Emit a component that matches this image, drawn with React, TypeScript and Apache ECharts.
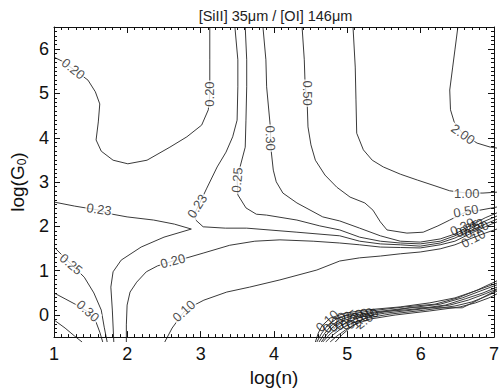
import React, { useEffect, useRef } from "react";
import * as echarts from "echarts";

// ---- data (log(n), log(G0)) ----
const title = "[SiII] 35\u03bcm / [OI] 146\u03bcm";
const xName = "log(n)";
const xTicks = [1, 2, 3, 4, 5, 6, 7];

const c035Left = [[1.0, -0.01], [1.15, -0.19], [1.28, -0.37], [1.38, -0.5]];
const c030Left = [[1.0, 0.59], [1.15, 0.46], [1.31, 0.32], [1.46, 0.17], [1.57, -0.06], [1.62, -0.28], [1.66, -0.5]];
const c025Left = [[1.0, 1.61], [1.11, 1.43], [1.23, 1.23], [1.41, 0.94], [1.54, 0.59], [1.64, 0.21], [1.68, -0.17], [1.72, -0.5]];
const c023Left = [[1.0, 2.61], [1.28, 2.52], [1.61, 2.43], [1.79, 2.34], [1.99, 2.28], [2.35, 2.21], [2.63, 2.12], [2.86, 2.01],
  [2.49, 1.83], [2.18, 1.61], [1.91, 1.32], [1.8, 1.06], [1.77, 0.72], [1.79, 0.21], [1.81, -0.5]];
const c020Loop = [[1.0, 5.83], [1.11, 5.74], [1.28, 5.54], [1.46, 5.32], [1.56, 5.06], [1.62, 4.79], [1.6, 4.39], [1.57, 3.99],
  [1.64, 3.74], [1.8, 3.54], [2.0, 3.46], [2.26, 3.54], [2.57, 3.83], [2.8, 4.06], [3.0, 4.32], [3.09, 4.66], [3.11, 4.99],
  [3.11, 5.77], [3.11, 6.5]];
const c020Main = [[1.98, -0.5], [1.98, -0.12], [1.99, 0.32], [2.03, 0.61], [2.12, 0.83], [2.25, 1.06], [2.4, 1.19], [2.61, 1.3],
  [2.8, 1.37], [3.03, 1.48], [3.38, 1.65], [3.72, 1.74], [4.06, 1.77], [4.51, 1.74], [4.87, 1.7], [5.14, 1.66], [5.42, 1.61],
  [5.69, 1.6], [5.96, 1.59], [6.23, 1.66], [6.43, 1.74], [6.63, 1.9], [6.84, 2.06], [7.0, 2.17]];
const c010Main = [[2.5, -0.5], [2.6, -0.19], [2.76, 0.17], [2.9, 0.32], [3.03, 0.43], [3.34, 0.61], [3.65, 0.72], [4.06, 0.88],
  [4.56, 1.1], [4.87, 1.3], [5.14, 1.37], [5.42, 1.41], [5.69, 1.46], [5.96, 1.5], [6.23, 1.57], [6.43, 1.66], [6.63, 1.79],
  [6.84, 1.92], [7.0, 2.01]];
const c023Upper = [[3.45, 6.5], [3.49, 5.77], [3.49, 5.17], [3.48, 4.43], [3.42, 4.06], [3.33, 3.72], [3.21, 3.39], [3.07, 2.92],
  [2.98, 2.61], [2.9, 2.34], [2.92, 2.21], [3.02, 2.06], [3.32, 2.03], [3.61, 2.03], [4.29, 1.94], [4.87, 1.86], [5.14, 1.74],
  [5.42, 1.68], [5.69, 1.66], [5.96, 1.63], [6.23, 1.7], [6.43, 1.81], [6.63, 1.97], [6.84, 2.12], [7.0, 2.23]];
const c025Upper = [[3.59, 6.5], [3.61, 5.77], [3.61, 5.17], [3.6, 4.43], [3.59, 3.83], [3.52, 3.39], [3.48, 3.1], [3.49, 2.77],
  [3.6, 2.48], [3.74, 2.34], [3.88, 2.32], [4.29, 2.21], [4.6, 2.08], [4.87, 1.99], [5.14, 1.83], [5.42, 1.74], [5.69, 1.7],
  [5.96, 1.68], [6.23, 1.74], [6.43, 1.86], [6.63, 2.01], [6.84, 2.19], [7.0, 2.3]];
const c030Upper = [[3.83, 6.5], [3.87, 5.77], [3.88, 5.17], [3.93, 4.28], [3.94, 3.77], [3.97, 3.32], [4.01, 3.06], [4.1, 2.81],
  [4.29, 2.59], [4.64, 2.28], [4.87, 2.19], [5.14, 2.03], [5.42, 1.86], [5.69, 1.74], [5.96, 1.72], [6.23, 1.79], [6.43, 1.9],
  [6.63, 2.08], [6.84, 2.26], [7.0, 2.37]];
const c050Upper = [[4.36, 6.5], [4.39, 5.77], [4.4, 5.26], [4.43, 4.77], [4.44, 4.28], [4.48, 3.88], [4.54, 3.54], [4.67, 3.21],
  [4.83, 2.94], [5.01, 2.72], [5.21, 2.59], [5.32, 2.43], [5.42, 2.17], [5.51, 1.99], [5.78, 1.92], [6.0, 1.94], [6.2, 2.08],
  [6.36, 2.21], [6.58, 2.39], [6.77, 2.43], [7.0, 2.5]];
const c100Upper = [[5.05, 6.5], [5.08, 5.61], [5.09, 4.88], [5.1, 4.14], [5.19, 3.77], [5.31, 3.54], [5.46, 3.39], [5.69, 3.23],
  [5.92, 3.1], [6.16, 2.97], [6.36, 2.86], [6.59, 2.81], [6.81, 2.81], [7.0, 2.83]];
const c200Upper = [[6.47, 6.5], [6.43, 5.99], [6.4, 5.61], [6.36, 5.1], [6.37, 4.66], [6.42, 4.39], [6.54, 4.12], [6.73, 3.92],
  [6.91, 3.83], [7.0, 3.81]];

// lower-right bundle of contours
const l010 = [[4.54, -0.5], [4.58, -0.3], [4.63, -0.14], [4.74, 0.03], [4.94, 0.14], [5.21, 0.21], [5.69, 0.28], [6.09, 0.37], [6.43, 0.48], [6.7, 0.63], [7.0, 0.81]];
const l020 = [[4.56, -0.5], [4.62, -0.32], [4.7, -0.14], [4.82, 0.01], [5.01, 0.12], [5.28, 0.19], [5.75, 0.28], [6.16, 0.34], [6.47, 0.48], [6.74, 0.66], [7.0, 0.86]];
const l023 = [[4.59, -0.5], [4.66, -0.32], [4.75, -0.14], [4.87, -0.01], [5.08, 0.1], [5.35, 0.17], [5.82, 0.26], [6.23, 0.34], [6.53, 0.48], [6.77, 0.63], [7.0, 0.77]];
const l025 = [[4.62, -0.5], [4.7, -0.32], [4.79, -0.14], [4.91, -0.03], [5.12, 0.08], [5.42, 0.17], [5.89, 0.23], [6.3, 0.32], [6.57, 0.46], [6.81, 0.59], [7.0, 0.72]];
const l030 = [[4.64, -0.5], [4.74, -0.32], [4.85, -0.17], [4.97, -0.06], [5.17, 0.06], [5.48, 0.14], [5.96, 0.23], [6.36, 0.32], [6.61, 0.43], [6.84, 0.57], [7.0, 0.68]];
const l050 = [[4.68, -0.5], [4.78, -0.34], [4.9, -0.19], [5.04, -0.08], [5.23, 0.03], [5.55, 0.12], [6.03, 0.21], [6.43, 0.3], [6.66, 0.39], [6.86, 0.52], [7.0, 0.63]];
const l100 = [[4.74, -0.5], [4.83, -0.37], [4.95, -0.23], [5.09, -0.1], [5.28, 0.01], [5.62, 0.1], [6.09, 0.19], [6.5, 0.28], [6.71, 0.37], [6.89, 0.48], [7.0, 0.57]];
const l200 = [[4.81, -0.5], [4.9, -0.34], [5.02, -0.17], [5.17, -0.01], [5.37, 0.14], [5.82, 0.26], [6.53, 0.26], [6.74, 0.43], [7.0, 0.66]];

const contours = [c035Left, c030Left, c025Left, c023Left, c020Loop, c020Main, c010Main, c023Upper, c025Upper,
  c030Upper, c050Upper, c100Upper, c200Upper, l010, l020, l023, l025, l030, l050, l100, l200];

// contour labels: text, position on the line
const labelTexts = ["0.20", "0.20", "0.23", "0.25", "0.30", "0.20", "0.10", "0.23", "0.25", "0.30", "0.50", "2.00", "1.00", "0.50"];
const labelPoints = [[1.26, 5.57], [3.1, 5.01], [1.61, 2.45], [1.23, 1.23], [1.46, 0.19], [2.61, 1.3], [2.76, 0.19], [2.94, 2.52],
  [3.48, 3.1], [3.93, 4.03], [4.43, 5.03], [6.54, 4.12], [6.59, 2.81], [6.58, 2.41]];
const labelAngles = [-38, 90, -8, -40, -42, 15, 42, 58, 85, -88, -90, -35, 0, 10];

// crowded labels (overlapping clumps)
const clumpTexts = ["0.30", "0.25", "0.23", "0.20", "0.10", "0.10", "0.20", "0.23", "0.25", "0.30", "0.50", "1.00", "2.00"];
const clumpPoints = [[6.53, 2.06], [6.6, 2.02], [6.66, 2.05], [6.72, 2.0], [6.68, 1.8], [4.7, -0.03], [4.8, -0.07], [4.88, -0.05],
  [4.96, -0.01], [5.04, 0.0], [5.11, 0.02], [5.18, 0.03], [5.24, 0.02]];
const clumpAngles = [25, 25, 25, 25, 28, 42, 38, 38, 38, 38, 38, 38, 38];

const FONT = "'Liberation Sans', Arial, Helvetica, sans-serif";
const INK = "#111";
const GRID = { left: 54, right: 5, top: 27, bottom: 50 };

function tick(len: number) { return { show: true, inside: true, length: len, lineStyle: { color: INK, width: 1 } }; }
function line(show: boolean) { return { show, onZero: false, lineStyle: { color: INK, width: 1 } }; }

// chart that holds the contour lines and their labels (axes invisible, same scales)
function seriesOption() {
  const hidden = { axisLine: { show: false }, axisTick: { show: false }, axisLabel: { show: false }, splitLine: { show: false } };
  const series: any[] = contours.map((d) => ({
    type: "line", data: d, showSymbol: false, symbol: "none",
    lineStyle: { color: "#3a3a3a", width: 1 }, silent: true, z: 2,
  }));
  series.push({
    type: "scatter", symbolSize: 1, itemStyle: { color: "rgba(0,0,0,0)" }, silent: true, z: 5,
    data: labelTexts.map((t, i) => ({ name: t, value: labelPoints[i], label: { rotate: labelAngles[i] } })),
    label: { show: true, position: "inside", formatter: "{b}", fontSize: 13, color: "#1a1a1a", fontFamily: FONT,
      backgroundColor: "#fff", padding: [0, 1] },
  });
  series.push({
    type: "scatter", symbolSize: 1, itemStyle: { color: "rgba(0,0,0,0)" }, silent: true, z: 6,
    data: clumpTexts.map((t, i) => ({ name: t, value: clumpPoints[i], label: { rotate: clumpAngles[i] } })),
    label: { show: true, position: "inside", formatter: "{b}", fontSize: 13, color: "#1a1a1a", fontFamily: FONT },
  });
  return {
    animation: false,
    backgroundColor: "#fff",
    grid: GRID,
    xAxis: { type: "value", min: 1, max: 7, ...hidden },
    yAxis: { type: "value", min: -0.5, max: 6.5, ...hidden },
    series,
  };
}

// chart that draws the frame, ticks, tick labels, axis names and title
function axesOption() {
  const xAxis: any[] = [
    { type: "value", min: 1, max: 7, interval: 1, position: "bottom", axisLine: line(true), axisTick: tick(6),
      minorTick: { show: true, splitNumber: 10, length: 3, lineStyle: { color: INK, width: 1 } }, splitLine: { show: false },
      name: xName, nameLocation: "middle", nameGap: 30, nameTextStyle: { fontSize: 19, color: INK, fontFamily: FONT },
      axisLabel: { show: true, fontSize: 18, color: INK, margin: 8, fontFamily: FONT,
        formatter: (v: number) => (xTicks.includes(v) ? String(v) : "") } },
    { type: "value", min: 1, max: 7, interval: 1, position: "top", axisLine: line(true), axisTick: tick(6),
      minorTick: { show: true, splitNumber: 10, length: 3, lineStyle: { color: INK, width: 1 } }, splitLine: { show: false },
      axisLabel: { show: false } },
  ];
  const yAxis: any[] = [
    { type: "value", min: -0.5, max: 6.5, splitNumber: 7, position: "left", axisLine: line(true), axisTick: tick(6),
      splitLine: { show: false },
      name: "log(G{sub|0})", nameLocation: "middle", nameGap: 24, nameRotate: 90,
      nameTextStyle: { fontSize: 19, color: INK, fontFamily: FONT,
        rich: { sub: { fontSize: 12, verticalAlign: "bottom", padding: [9, 0, 0, 0] } } },
      axisLabel: { show: true, fontSize: 18, color: INK, margin: 5, fontFamily: FONT, showMinLabel: false, showMaxLabel: false } },
    { type: "value", min: -0.5, max: 6.5, interval: 0.1, position: "left", axisLine: line(false), axisTick: tick(3),
      axisLabel: { show: false }, splitLine: { show: false } },
    { type: "value", min: -0.5, max: 6.5, splitNumber: 7, position: "right", axisLine: line(true), axisTick: tick(6),
      axisLabel: { show: false }, splitLine: { show: false } },
    { type: "value", min: -0.5, max: 6.5, interval: 0.1, position: "right", axisLine: line(false), axisTick: tick(3),
      axisLabel: { show: false }, splitLine: { show: false } },
  ];
  return {
    animation: false,
    backgroundColor: "transparent",
    grid: GRID,
    graphic: [{ type: "text", x: 275.5, y: 16, style: { text: title, fontSize: 14.5, fill: "#222", fontFamily: FONT,
      textAlign: "center", textVerticalAlign: "middle" } }],
    xAxis, yAxis, series: [],
  };
}

export default function App() {
  const seriesRef = useRef<HTMLDivElement>(null);
  const axesRef = useRef<HTMLDivElement>(null);
  useEffect(() => {
    document.body.style.margin = "0";
    const c1 = echarts.init(seriesRef.current!, null, { renderer: "svg" });
    c1.setOption(seriesOption());
    const c2 = echarts.init(axesRef.current!, null, { renderer: "svg" });
    c2.setOption(axesOption());
    return () => { c1.dispose(); c2.dispose(); };
  }, []);
  return (
    <div style={{ position: "relative", width: 502, height: 392 }}>
      <div ref={seriesRef} style={{ position: "absolute", left: 0, top: 0, width: 502, height: 392 }} />
      <div ref={axesRef} style={{ position: "absolute", left: 0, top: 0, width: 502, height: 392, pointerEvents: "none" }} />
    </div>
  );
}
